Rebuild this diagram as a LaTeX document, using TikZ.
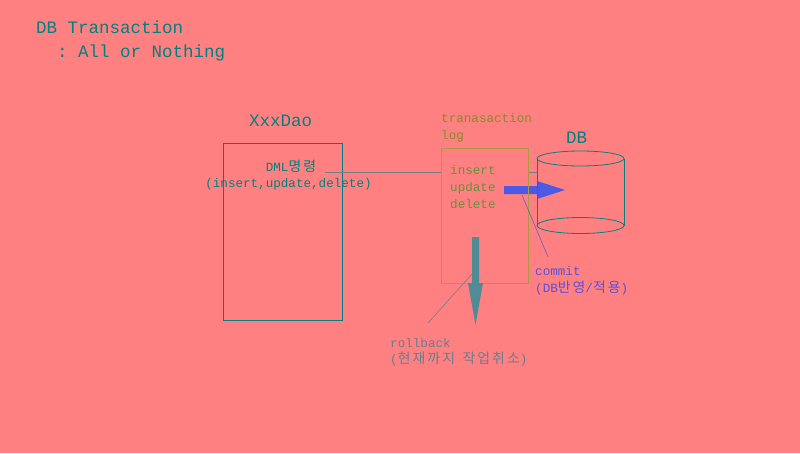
\documentclass[tikz,border=0pt]{standalone}
\usepackage{fontspec}
\setmonofont{Liberation Mono}
\newfontfamily\kr[Scale=1.1,LetterSpace=15]{Noto Sans CJK KR}
\definecolor{bgc}{RGB}{255,128,128}
\definecolor{tealc}{RGB}{0,128,128}
\definecolor{olivec}{RGB}{135,140,40}
\definecolor{greenc}{RGB}{100,145,60}
\definecolor{khakic}{RGB}{175,150,70}
\definecolor{bluec}{RGB}{75,90,230}
\definecolor{violetc}{RGB}{90,80,220}
\definecolor{grayc}{RGB}{120,125,130}
\definecolor{rbtext}{RGB}{105,125,145}
\definecolor{rbarrow}{RGB}{80,140,150}
\tikzset{
  lbl/.style={inner sep=0pt, anchor=base west, font=\ttfamily\fontsize{12.6}{15}\selectfont},
  biglbl/.style={inner sep=0pt, anchor=base west, font=\ttfamily\fontsize{17.5}{20}\selectfont},
  thinline/.style={line width=0.8pt},
}
\begin{document}
\begin{tikzpicture}[x=1pt,y=-1pt]
\fill[bgc] (0,0) rectangle (800,453);
\useasboundingbox (0,0) rectangle (800,453);
% title
\node[biglbl, text=tealc] (t1) at (36,33) {DB Transaction};
\node[biglbl, text=tealc] (t2) at (57,57) {: All or Nothing};
% XxxDao
\node[biglbl, text=tealc] (daolbl) at (249,126) {XxxDao};
\node[draw=tealc, thinline, minimum width=119pt, minimum height=177pt, inner sep=0pt, anchor=north west] (dao) at (223,143) {};
\node[lbl, text=tealc, anchor=base] (dml) at (291,171) {DML{\kr 명령}};
\node[lbl, text=tealc, anchor=base] (dml2) at (288.5,187) {(insert,update,delete)};
% log
\node[lbl, text=olivec] (loglbl1) at (441,122) {tranasaction};
\node[lbl, text=olivec] (loglbl2) at (441,139) {log};
\node[draw=khakic, thinline, minimum width=87pt, minimum height=135pt, inner sep=0pt, anchor=north west] (log) at (441,148) {};
\node[lbl, text=greenc] (ins) at (450,174) {insert};
\node[lbl, text=greenc] (upd) at (450,191) {update};
\node[lbl, text=greenc] (del) at (450,208) {delete};
\coordinate (dmlend) at (325,172);
\draw[grayc, thinline] (dmlend) -- (log.west |- dmlend);
% blue arrow
\fill[bluec] (504,186) -- (537,186) -- (537,181) -- (565,190) -- (537,199) -- (537,194) -- (504,194) -- cycle;
% DB cylinder
\node[biglbl, text=tealc] (dblbl) at (566,143) {DB};
\coordinate (cyltop) at (580.5,158.5);
\coordinate (cylbot) at (580.5,225.5);
\draw[tealc, thinline] (cyltop) ellipse [x radius=43.5pt, y radius=7.5pt];
\draw[tealc, thinline] (cylbot) ellipse [x radius=43.5pt, y radius=8pt];
\draw[tealc, thinline] (537,158.5) -- (537,225.5);
\draw[tealc, thinline] (624,158.5) -- (624,225.5);
\draw[khakic, thinline] (log.north east) -- (log.south east);
\draw[grayc, thinline] (log.east |- dmlend) -- (537,172);
% commit
\node[lbl, text=violetc] (cm1) at (535,275) {commit};
\node[lbl, text=violetc] (cm2) at (535,292) {(DB{\kr 반영}/{\kr 적용})};
\coordinate (cmstart) at (522,195);
\coordinate (cmend) at (548,257);
\draw[violetc!70!gray, line width=0.6pt] (cmstart) -- (cmend);
% rollback arrow
\fill[rbarrow] (472,237) -- (479,237) -- (479,283) -- (483,283) -- (475.5,325) -- (468,283) -- (472,283) -- cycle;
\coordinate (rbstart) at (472,274);
\coordinate (rbend) at (428,323);
\draw[grayc, line width=0.6pt] (rbstart) -- (rbend);
\node[lbl, text=rbtext] (rb1) at (390,347) {rollback};
\node[lbl, text=rbtext] (rb2) at (390,363) {({\kr 현재까지} {\kr 작업취소})};
\end{tikzpicture}
\end{document}
